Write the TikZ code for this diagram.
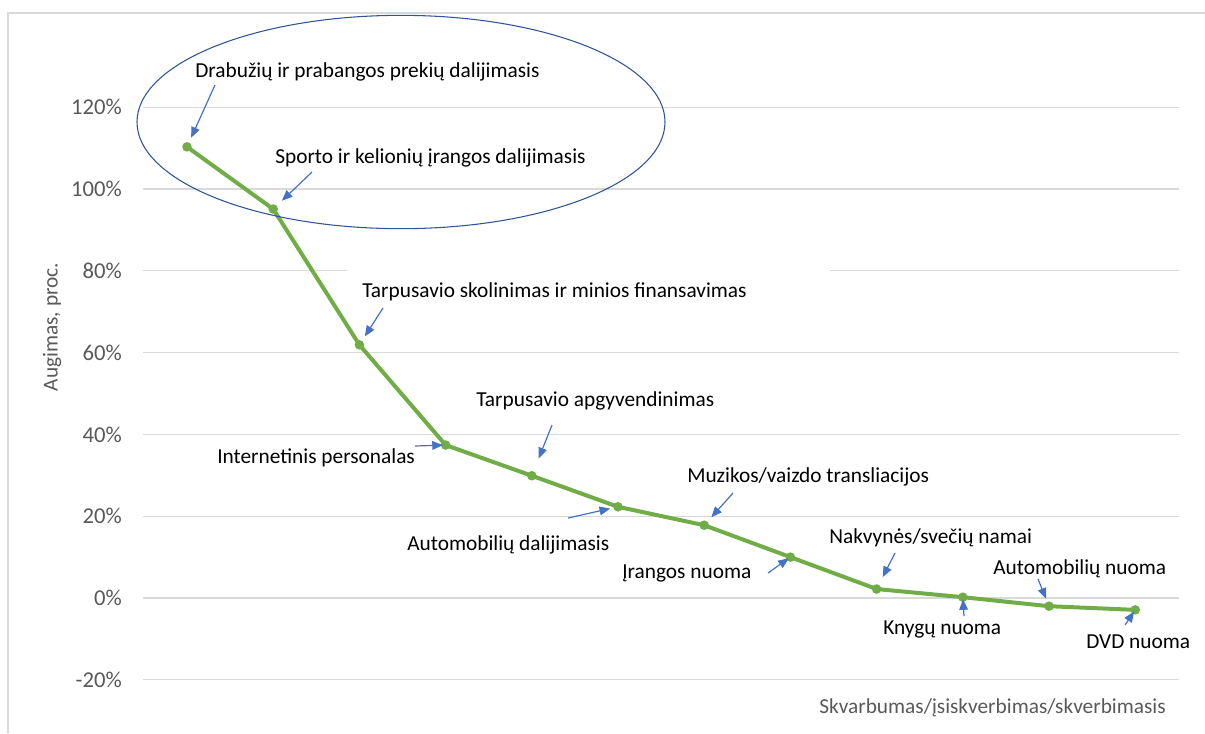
\documentclass[tikz,border=0pt]{standalone}
\usepackage{fontspec}
\setmainfont{Carlito}
\usetikzlibrary{arrows.meta}
\definecolor{gridgray}{HTML}{D9D9D9}
\definecolor{axisgray}{HTML}{595959}
\definecolor{seriesgreen}{HTML}{70AD47}
\definecolor{arrowblue}{HTML}{4472C4}
\definecolor{ringblue}{HTML}{2F5597}
\tikzset{
	gridline/.style  = {draw=gridgray, line width=1pt},
	series/.style    = {draw=seriesgreen, line width=3pt, line join=round},
	marker/.style    = {fill=seriesgreen},
	ring/.style      = {draw=ringblue, line width=0.8pt},
	pointer/.style   = {draw=arrowblue, line width=0.9pt, -{Triangle[length=8pt, width=6.5pt]}},
	datalabel/.style = {anchor=west, inner sep=0pt, font=\fontsize{16}{19}\selectfont, text=black},
	ticklabel/.style = {anchor=east, inner sep=0pt, font=\fontsize{17}{20}\selectfont, text=axisgray},
	axistitle/.style = {inner sep=0pt, font=\fontsize{16}{19}\selectfont, text=axisgray},
}

\begin{document}
\begin{tikzpicture}[x=0.75pt, y=-0.75pt]
		\useasboundingbox (0,0) rectangle (1205,733);
		
		% Frame and gridlines
		\draw[gridline] (8,733) -- (8,13) -- (1205,13);
		\foreach \v in {-20,0,20,40,60,100,120}
			\draw[gridline] (143,{598-4.09*\v}) -- (1179,{598-4.09*\v});
		\draw[gridline] (143,270.8) -- (347,270.8) (830,270.8) -- (1179,270.8);
		
		% Axis labels and titles
		\foreach \v in {-20,0,...,120}
			\node[ticklabel] (tick\v) at (122,{598-4.09*\v}) {\v\%};
		\node[axistitle, rotate=90] (ytitle) at (52,327) {Augimas, proc.};
		\node[axistitle, anchor=west] (xtitle) at (819,708) {Skvarbumas/įsiskverbimas/skverbimasis};
		
		% Data points and the green line
		\foreach \v [count=\i] in {110.3,95.1,61.9,37.4,29.9,22.3,17.8,10.0,2.2,0.2,-2.0,-2.9}
			\coordinate (p\i) at ({187+86.2*(\i-1)},{598-4.09*\v});
		\draw[series] (p1) \foreach \i in {2,...,12} { -- (p\i) };
		\foreach \i in {1,...,12}
			\fill[marker] (p\i) circle (3.6pt);
		
		% Ring round the two leaders
		\draw[ring] (401,122) ellipse [x radius=198pt, y radius=80pt];
		
		% Data labels
		\node[datalabel] (l1)  at (195,72)   {Drabužių ir prabangos prekių dalijimasis};
		\node[datalabel] (l2)  at (275,158)  {Sporto ir kelionių įrangos dalijimasis};
		\node[datalabel] (l3)  at (362,292)  {Tarpusavio skolinimas ir minios finansavimas};
		\node[datalabel] (l4)  at (217,458)  {Internetinis personalas};
		\node[datalabel] (l5)  at (476,401)  {Tarpusavio apgyvendinimas};
		\node[datalabel] (l6)  at (407,545)  {Automobilių dalijimasis};
		\node[datalabel] (l7)  at (687,477)  {Muzikos/vaizdo transliacijos};
		\node[datalabel] (l8)  at (622,573)  {Įrangos nuoma};
		\node[datalabel] (l9)  at (829,538)  {Nakvynės/svečių namai};
		\node[datalabel] (l10) at (883,629)  {Knygų nuoma};
		\node[datalabel] (l11) at (993,569)  {Automobilių nuoma};
		\node[datalabel] (l12) at (1086,642) {DVD nuoma};
		
		% Pointers from the labels to the points
		\foreach \x/\y/\s [count=\i] in {215/85/7.5, 312/172/9, 383/308/7.5, 415/446/2, 552/425/14, 568/518/6,
				733/493/8, 768/573/1.5, 895/553/10, 964/616/1.5, 1038/579/6, 1125/625/1.5}
		{
			\coordinate (t\i) at (\x,\y);
			\draw[pointer, shorten >=\s pt] (t\i) -- (p\i);
		}
	\end{tikzpicture}
\end{document}
